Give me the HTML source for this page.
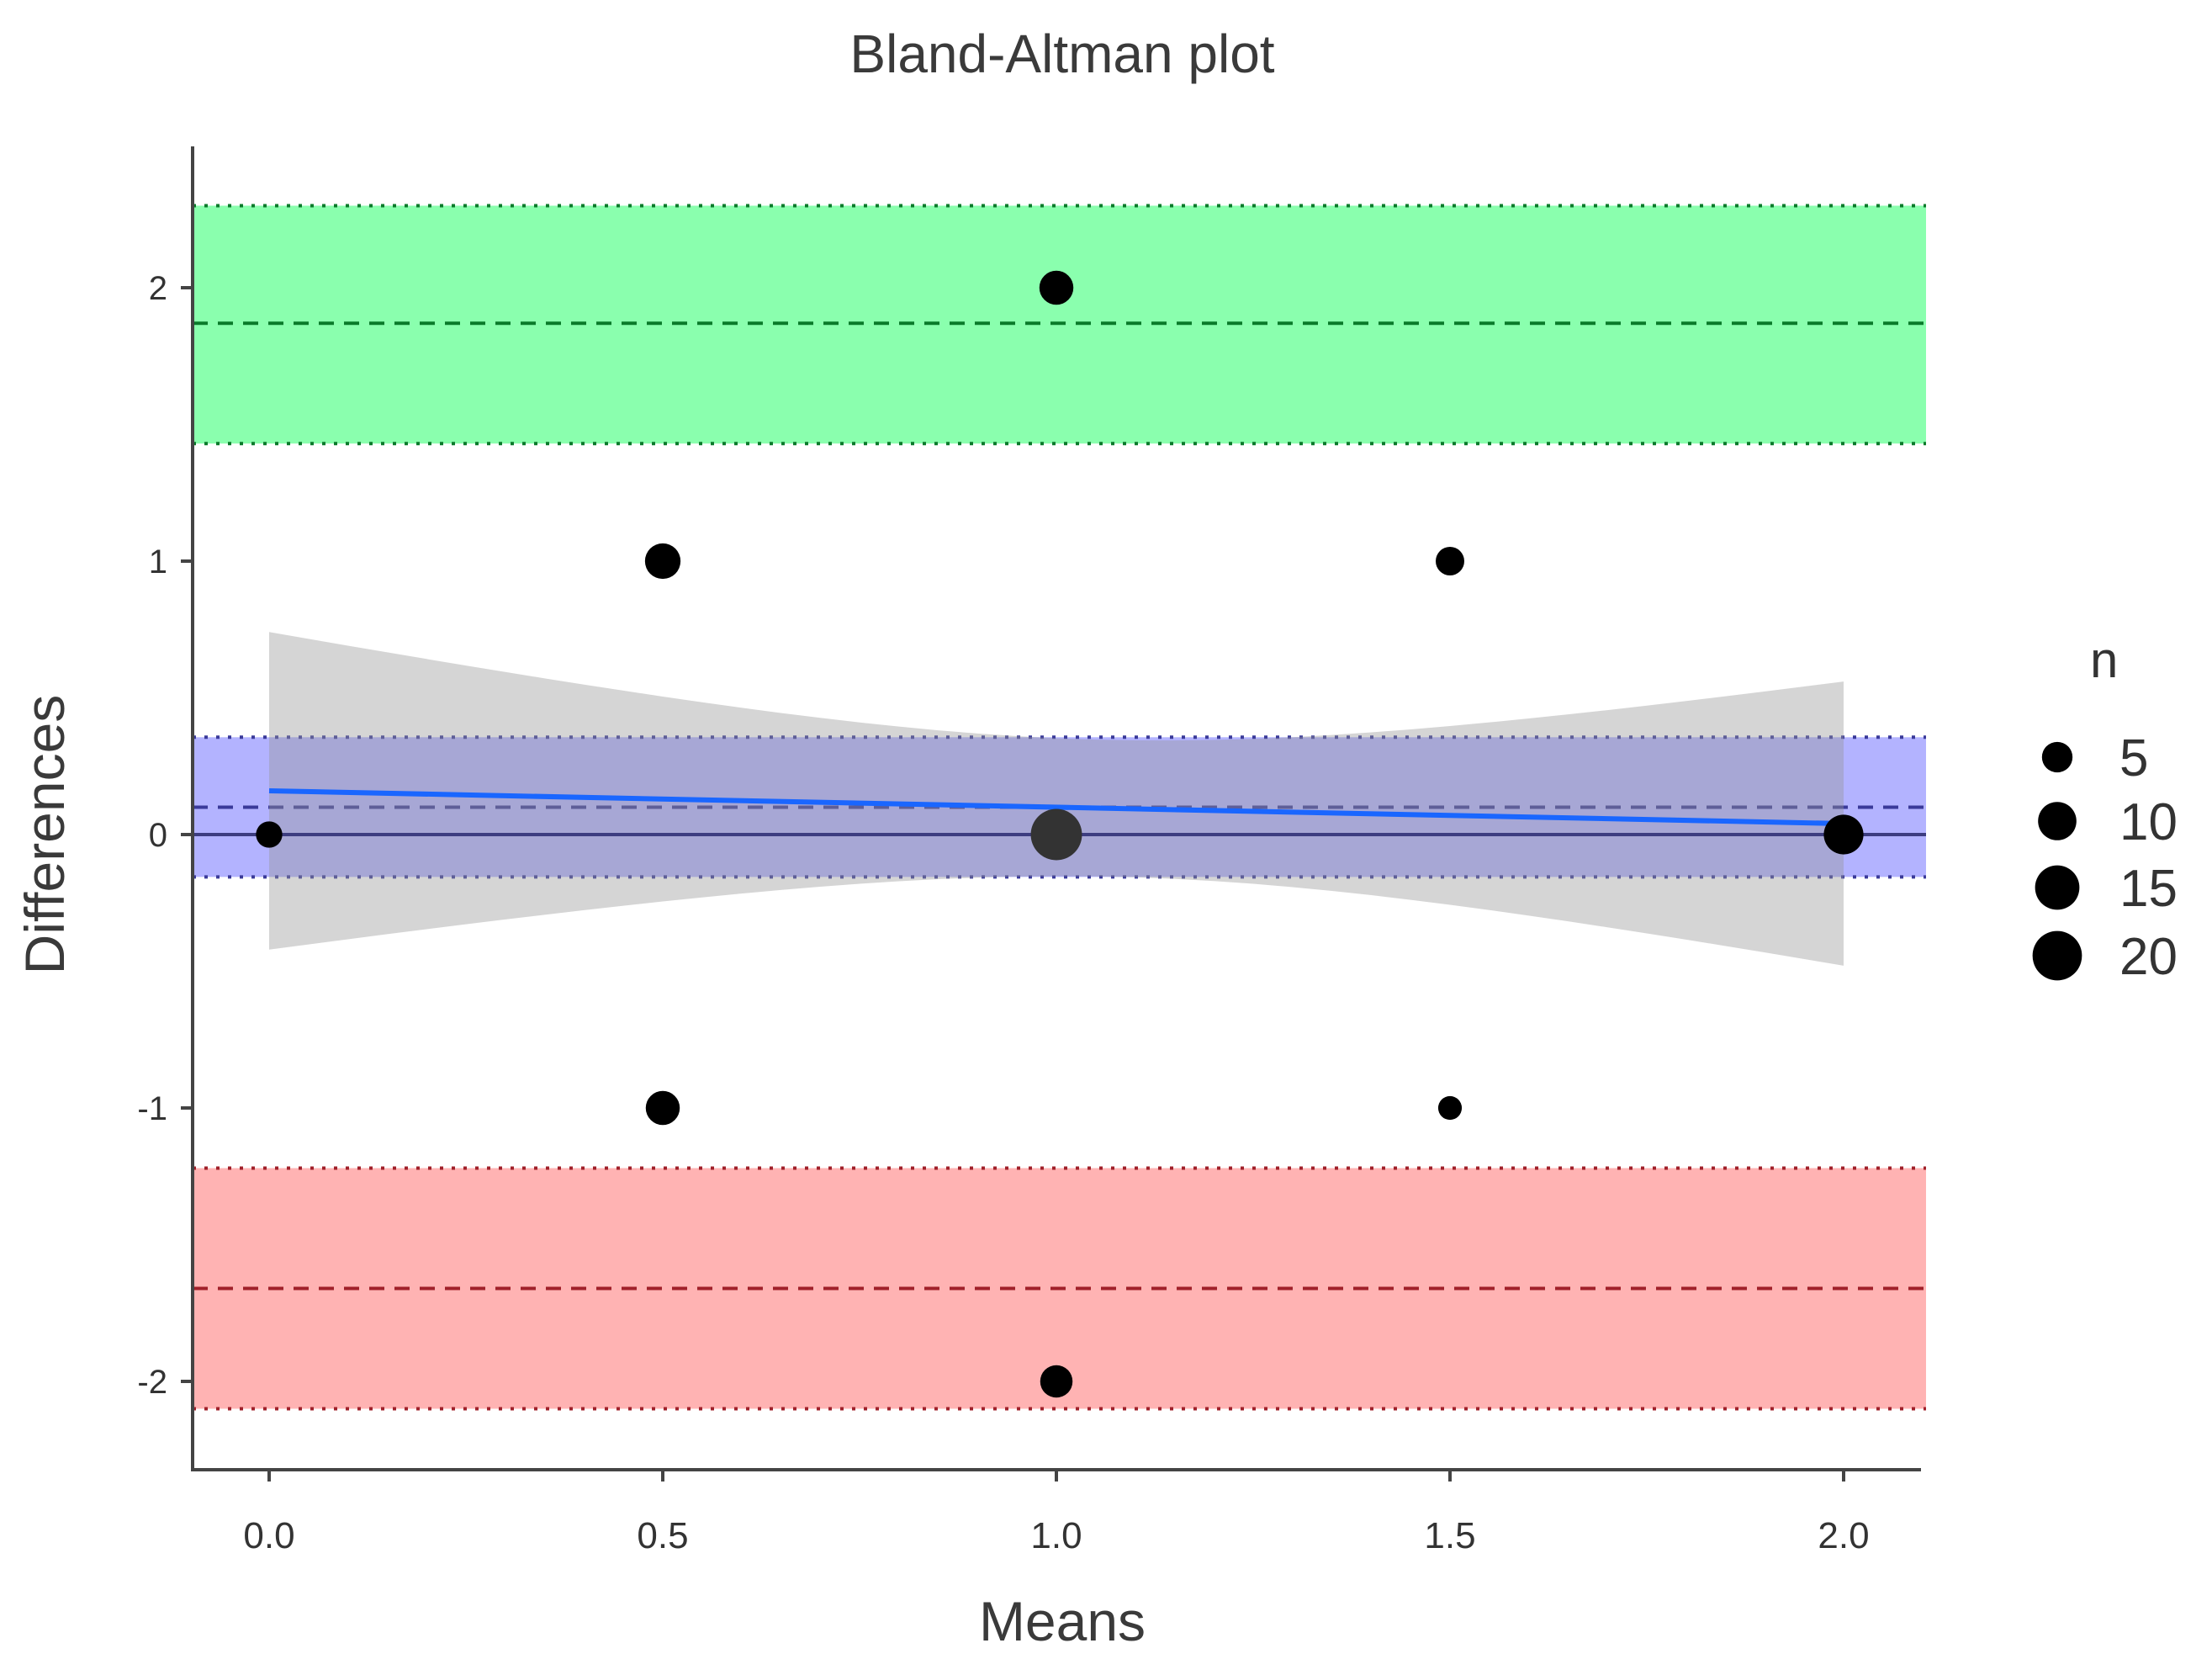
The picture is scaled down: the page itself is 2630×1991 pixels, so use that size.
<!DOCTYPE html>
<html><head><meta charset="utf-8"><style>
html,body{margin:0;padding:0;background:#fff;}
svg text{font-family:"Liberation Sans",sans-serif;}
</style></head><body>
<svg id="chart" width="2630" height="1986" viewBox="0 0 2630 1986" xmlns="http://www.w3.org/2000/svg">
<rect width="2630" height="1986" fill="#fff"/>
<text x="1263" y="86" font-size="64" fill="#3a3a3a" text-anchor="middle">Bland-Altman plot</text>
<g id="plot"></g>
<text x="1263" y="1950" font-size="66" fill="#3a3a3a" text-anchor="middle">Means</text>
<text transform="translate(76,992) rotate(-90)" font-size="66" fill="#3a3a3a" text-anchor="middle">Differences</text>
<g id="legend"></g>
</svg>
<script>
const xs = [0, 0.5, 0.5, 1, 1, 1, 1.5, 1.5, 2];
const ys = [0, 1, -1, 2, 0, -2, 1, -1, 0];
const ns = [3, 8, 7, 7, 22, 6, 4, 2, 11];
const xTicks = [0, 0.5, 1, 1.5, 2];
const xTickLabels = ["0.0", "0.5", "1.0", "1.5", "2.0"];
const yTicks = [-2, -1, 0, 1, 2];
const yTickLabels = ["-2", "-1", "0", "1", "2"];
const upperLoA = [1.43, 1.87, 2.30];
const lowerLoA = [-2.10, -1.66, -1.22];
const biasBand = [-0.155, 0.10, 0.356];
const fitLine = [0.16, 0.04];
const ciCenter = [1.07, 0.25, 0.24];
const legendN = [5, 10, 15, 20];

const NS = "http://www.w3.org/2000/svg";
const X = v => 320 + v * 936;
const Y = v => 992 - v * 325;
const R = n => 7 + Math.sqrt(n) * 5;
const plot = document.getElementById('plot');
function mk(tag, attrs, parent) {
  const e = document.createElementNS(NS, tag);
  for (const k in attrs) e.setAttribute(k, attrs[k]);
  (parent || plot).appendChild(e);
  return e;
}
const x0 = 229, x1 = 2290;
function band(vals, fill, stroke, name) {
  let e = mk('rect', {x: x0, y: Y(vals[2]), width: x1 - x0, height: Y(vals[0]) - Y(vals[2]), fill: fill});
  
  
  [vals[0], vals[2]].forEach(v => {
    let l = mk('line', {x1: x0, x2: x1, y1: Y(v), y2: Y(v), stroke: stroke, 'stroke-width': 4, 'stroke-dasharray': '4 10'});
    
    
  });
  let d = mk('line', {x1: x0, x2: x1, y1: Y(vals[1]), y2: Y(vals[1]), stroke: stroke, 'stroke-width': 4, 'stroke-dasharray': '18 12'});
  
  
}
band(upperLoA, '#8affae', '#0a7a2a', 'upper-loa');
band(lowerLoA, '#ffb3b3', '#a0202a', 'lower-loa');
band(biasBand, '#b3b3ff', '#3a3a9a', 'bias');
const fitAt = x => fitLine[0] + (fitLine[1] - fitLine[0]) * x / 2;
const hw = x => Math.sqrt(ciCenter[1] * ciCenter[1] + ciCenter[2] * (x - ciCenter[0]) * (x - ciCenter[0]));
let up = [], lo = [];
for (let i = 0; i <= 40; i++) { const x = i * 2 / 40; up.push(X(x) + ',' + Y(fitAt(x) + hw(x))); lo.unshift(X(x) + ',' + Y(fitAt(x) - hw(x))); }
let ci = mk('polygon', {points: up.concat(lo).join(' '), fill: 'rgba(150,150,150,0.4)'});


let zl = mk('line', {x1: x0, x2: x1, y1: Y(0), y2: Y(0), stroke: '#3d3d80', 'stroke-width': 4});


let fl = mk('line', {x1: X(0), x2: X(2), y1: Y(fitLine[0]), y2: Y(fitLine[1]), stroke: '#1a66ff', 'stroke-width': 6});


for (let i = 0; i < xs.length; i++) {
  let c = mk('circle', {cx: X(xs[i]), cy: Y(ys[i]), r: R(ns[i]), fill: ns[i] > 15 ? '#333' : '#000'});
  
  
}
let ya = mk('line', {x1: x0, x2: x0, y1: 174, y2: 1749, stroke: '#444', 'stroke-width': 4});


let xa = mk('line', {x1: x0, x2: 2284, y1: 1747, y2: 1747, stroke: '#444', 'stroke-width': 4});


yTicks.forEach((v, i) => {
  let t = mk('line', {x1: x0 - 14, x2: x0, y1: Y(v), y2: Y(v), stroke: '#444', 'stroke-width': 4});
  
  
  let l = mk('text', {x: x0 - 30, y: Y(v) + 14, 'font-size': 40, fill: '#333', 'text-anchor': 'end'});
  l.textContent = yTickLabels[i];
  
  
});
xTicks.forEach((v, i) => {
  let t = mk('line', {x1: X(v), x2: X(v), y1: 1747, y2: 1761, stroke: '#444', 'stroke-width': 4});
  
  
  let l = mk('text', {x: X(v), y: 1840, 'font-size': 44, fill: '#333', 'text-anchor': 'middle'});
  l.textContent = xTickLabels[i];
  
  
});
const lg = document.getElementById('legend');
let lt = mk('text', {x: 2485, y: 805, 'font-size': 60, fill: '#333'}, lg);
lt.textContent = 'n';


const ly = [900, 976, 1055, 1136];
legendN.forEach((n, i) => {
  let c = mk('circle', {cx: 2446, cy: ly[i], r: R(n), fill: '#000'}, lg);
  
  
  let t = mk('text', {x: 2520, y: ly[i] + 22, 'font-size': 62, fill: '#333'}, lg);
  t.textContent = n;
  
  
});
</script>
</body></html>
